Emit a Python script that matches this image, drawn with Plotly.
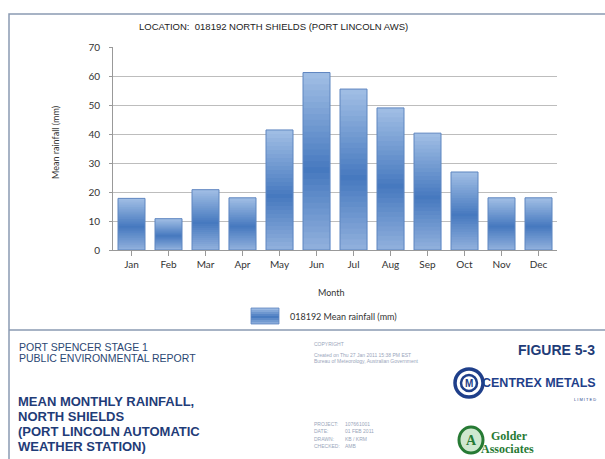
import plotly.graph_objects as go

# Mean monthly rainfall, station 018192 North Shields (Port Lincoln AWS)
months = ["Jan", "Feb", "Mar", "Apr", "May", "Jun",
          "Jul", "Aug", "Sep", "Oct", "Nov", "Dec"]
rainfall_mm = [17.8, 10.8, 20.8, 18.0, 41.4, 61.2,
               55.5, 49.0, 40.3, 26.9, 18.0, 18.0]
y_ticks = [0, 10, 20, 30, 40, 50, 60, 70]

W, HGT = 605, 459
ML, MR, MT, MB = 113, 48, 47, 209
PW, PH = W - ML - MR, HGT - MT - MB


def px(x):
    return (x - ML) / PW


def py(y):
    return (HGT - MB - y) / PH


# vertical shading of the bars: light at the ends, darker below the middle
stops = [(0.0, (146, 177, 221)), (0.45, (70, 121, 191)), (1.0, (162, 191, 229))]


def shade(t):
    for (t0, c0), (t1, c1) in zip(stops[:-1], stops[1:]):
        if t <= t1:
            f = (t - t0) / (t1 - t0)
            return "rgb(%d,%d,%d)" % tuple(round(a + (b - a) * f) for a, b in zip(c0, c1))
    return "rgb(%d,%d,%d)" % stops[-1][1]


N = 30
fig = go.Figure()
for k in range(N):
    frac = (N - k) / N
    fig.add_trace(go.Bar(
        x=months, y=[v * frac for v in rainfall_mm],
        marker=dict(color=shade((N - k - 0.5) / N), line=dict(width=0)),
        showlegend=False, hoverinfo="skip",
    ))
fig.add_trace(go.Bar(
    x=months, y=rainfall_mm, name="018192 Mean rainfall (mm)",
    marker=dict(color="rgba(0,0,0,0)", line=dict(color="rgb(95,134,192)", width=1)),
    showlegend=False,
))

fig.update_layout(
    width=W, height=HGT, margin=dict(l=ML, r=MR, t=MT, b=MB),
    paper_bgcolor="white", plot_bgcolor="white",
    barmode="overlay", bargap=0.27,
    font=dict(family="Lato, Open Sans, sans-serif", size=10, color="#333"),
)
fig.update_xaxes(
    range=[-0.5, 11.5], showgrid=False, showline=True, linecolor="#999", linewidth=1,
    ticks="outside", ticklen=5, tickcolor="#999",
    tickfont=dict(size=10, color="#333"),
)
fig.update_yaxes(
    range=[0, 70], tickvals=y_ticks, showgrid=True, gridcolor="#bdbdbd", gridwidth=1,
    showline=True, linecolor="#999", linewidth=1, zeroline=False,
    ticks="outside", ticklen=3, tickcolor="#999", ticklabelstandoff=7,
    tickfont=dict(size=10, color="#333"),
)

frame_col = "#8a9ab2"
shapes = [
    # outer frame and the divider above the title block
    dict(type="rect", xref="paper", yref="paper", x0=px(9), x1=px(640), y0=py(14), y1=py(500),
         line=dict(color=frame_col, width=1.5), layer="below"),
    dict(type="line", xref="paper", yref="paper", x0=px(9), x1=px(640), y0=py(330), y1=py(330),
         line=dict(color=frame_col, width=1.5)),
]
# legend swatch with the same shading
sw_x0, sw_x1, sw_y0, sw_y1 = 251, 279, 308, 324
M = 8
for i in range(M):
    ya = sw_y1 - (sw_y1 - sw_y0) * i / M
    yb = sw_y1 - (sw_y1 - sw_y0) * (i + 1) / M
    shapes.append(dict(type="rect", xref="paper", yref="paper",
                       x0=px(sw_x0), x1=px(sw_x1), y0=py(ya), y1=py(yb),
                       line=dict(width=0), fillcolor=shade((i + 0.5) / M)))
shapes.append(dict(type="rect", xref="paper", yref="paper",
                   x0=px(sw_x0), x1=px(sw_x1), y0=py(sw_y1), y1=py(sw_y0),
                   line=dict(color="rgb(95,134,192)", width=0.8)))

# Centrex Metals badge
shapes.append(dict(type="circle", xref="paper", yref="paper",
                   x0=px(455), x1=px(483), y0=py(397), y1=py(369),
                   line=dict(color="#1f3f8a", width=3.5), fillcolor="white"))
shapes.append(dict(type="circle", xref="paper", yref="paper",
                   x0=px(461), x1=px(477), y0=py(391), y1=py(375),
                   line=dict(color="#1f3f8a", width=2.5), fillcolor="white"))
# Golder Associates badge
shapes.append(dict(type="circle", xref="paper", yref="paper",
                   x0=px(459), x1=px(483), y0=py(453), y1=py(427),
                   line=dict(color="#277a34", width=3), fillcolor="#cfe8cf"))

ann = []


def text(x, y, s, size, color, xanchor="left", bold=False, family="Liberation Sans, Arial, sans-serif", **kw):
    ann.append(dict(xref="paper", yref="paper", x=px(x), y=py(y), text=("<b>%s</b>" % s) if bold else s,
                    showarrow=False, xanchor=xanchor, yanchor="middle",
                    font=dict(size=size, color=color, family=family), **kw))


text(273, 26, "LOCATION:  018192 NORTH SHIELDS (PORT LINCOLN AWS)", 9.5, "#222", xanchor="center")
text(55, 143, "Mean rainfall (mm)", 9, "#333", xanchor="center", family="Lato, sans-serif", textangle=-90)
text(331, 292, "Month", 9, "#333", xanchor="center", family="Lato, sans-serif")
text(288, 316, "018192 Mean rainfall (mm)", 9, "#333", family="Lato, sans-serif")

blue_dark = "#1f3c78"
text(17, 347, "PORT SPENCER STAGE 1", 10.5, "#2b4773")
text(17, 358, "PUBLIC ENVIRONMENTAL REPORT", 10.5, "#2b4773")
for i, line in enumerate(["MEAN MONTHLY RAINFALL,", "NORTH SHIELDS",
                          "(PORT LINCOLN AUTOMATIC", "WEATHER STATION)"]):
    text(16, 401 + i * 15.3, line, 13, blue_dark, bold=True)

grey = "#9aa6bb"
text(312, 344, "COPYRIGHT", 5, grey)
text(312, 355, "Created on Thu 27 Jan 2011 15:38 PM EST", 5, grey)
text(312, 361, "Bureau of Meteorology, Australian Government", 5, grey)
for i, (k, v) in enumerate([("PROJECT:", "107661001"), ("DATE:", "01 FEB 2011"),
                            ("DRAWN:", "KB / KRM"), ("CHECKED:", "AMB")]):
    text(312, 424 + i * 7.4, k, 5, grey)
    text(343, 424 + i * 7.4, v, 5, grey)

text(597, 350, "FIGURE 5-3", 14, blue_dark, xanchor="right", bold=True)
text(469, 383, "M", 10, "#1f3f8a", xanchor="center", bold=True)
text(598, 383, "CENTREX METALS", 12.5, "#1f3f8a", xanchor="right", bold=True,
     family="Liberation Sans Narrow, Liberation Sans, sans-serif")
text(598, 399, "L I M I T E D", 4, "#1f3f8a", xanchor="right")
text(471, 440, "A", 14, "#277a34", xanchor="center", bold=True, family="Liberation Serif, serif")
text(489, 436, "Golder", 12, "#277a34", bold=True, family="Liberation Serif, serif")
text(479, 449, "Associates", 12, "#277a34", bold=True, family="Liberation Serif, serif")

fig.update_layout(shapes=shapes, annotations=ann)
fig.write_html("out.html")
